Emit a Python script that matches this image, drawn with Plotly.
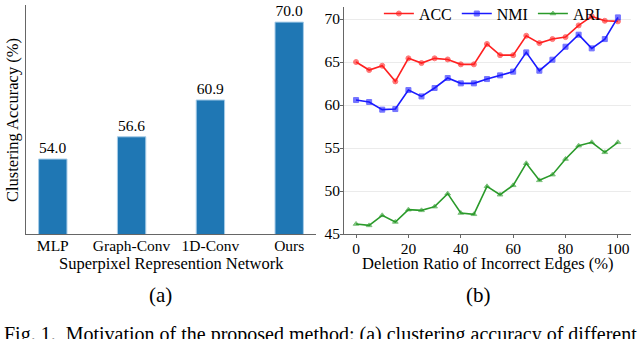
"""Clustering accuracy: bar chart (a) and deletion-ratio line chart (b)."""

import plotly.graph_objects as go

# (a) superpixel representation networks
networks = ["MLP", "Graph-Conv", "1D-Conv", "Ours"]
net_acc = [54.0, 56.6, 60.9, 70.0]

# (b) deletion ratio of incorrect edges
ratio = [0, 5, 10, 15, 20, 25, 30, 35, 40, 45, 50, 55, 60, 65, 70, 75, 80, 85, 90, 95, 100]
acc = [65.0, 64.07, 64.57, 62.75, 65.43, 64.88, 65.43, 65.3, 64.73, 64.73, 67.1,
       65.8, 65.8, 68.06, 67.2, 67.67, 67.9, 69.26, 70.31, 69.8, 69.73]
nmi = [60.58, 60.35, 59.46, 59.53, 61.74, 61.0, 61.98, 63.14, 62.52, 62.52, 63.02,
       63.45, 63.88, 66.12, 63.99, 65.27, 66.78, 68.18, 66.59, 67.67, 70.19]
ari = [46.16, 46.0, 47.17, 46.4, 47.83, 47.75, 48.18, 49.69, 47.44, 47.29, 50.54,
       49.57, 50.66, 53.22, 51.24, 51.9, 53.72, 55.27, 55.66, 54.5, 55.66]
ratio_ticks = [0, 20, 40, 60, 80, 100]
acc_ticks = [45, 50, 55, 60, 65, 70]

SERIF = "Liberation Serif"
AXIS_COLOR = "#666666"
LABEL_FONT = dict(family=SERIF, size=15.5, color="black")
TITLE_FONT = dict(family=SERIF, size=16.5, color="black")

fig = go.Figure()

fig.add_trace(
    go.Bar(
        x=networks,
        y=net_acc,
        text=[f"{v:.1f}" for v in net_acc],
        textposition="outside",
        textfont=dict(family=SERIF, size=15.5, color="black"),
        cliponaxis=False,
        width=0.36,
        marker=dict(color="#1f77b4", line=dict(color="#a6cce8", width=1)),
        showlegend=False,
        xaxis="x",
        yaxis="y",
    )
)

series = [
    ("ACC", acc, "#ff2020", "circle"),
    ("NMI", nmi, "#1a1aff", "square"),
    ("ARI", ari, "#2a9a2a", "triangle-up"),
]
for name, values, color, symbol in series:
    fig.add_trace(
        go.Scatter(
            x=ratio,
            y=values,
            name=name,
            mode="lines+markers",
            line=dict(color=color, width=1.6),
            marker=dict(symbol=symbol, size=5, color=color, opacity=0.6,
                        line=dict(color=color, width=1)),
            xaxis="x2",
            yaxis="y2",
        )
    )

axis_common = dict(
    showline=True,
    linecolor=AXIS_COLOR,
    linewidth=1,
    tickfont=LABEL_FONT,
    zeroline=False,
    automargin=False,
    ticklabelstandoff=-3,
)

fig.update_layout(
    width=640,
    height=339,
    margin=dict(l=0, r=0, t=0, b=0, autoexpand=False),
    paper_bgcolor="white",
    plot_bgcolor="white",
    font=dict(family=SERIF, color="black"),
    xaxis=dict(
        domain=[26 / 640, 316 / 640],
        range=[-0.34, 3.34],
        showgrid=False,
        ticks="",
        anchor="y",
        **axis_common,
    ),
    yaxis=dict(
        domain=[1 - 234 / 339, 1 - 5 / 339],
        range=[45.24, 72.0],
        showgrid=False,
        showticklabels=False,
        ticks="",
        anchor="x",
        **axis_common,
    ),
    xaxis2=dict(
        domain=[344 / 640, 631 / 640],
        range=[-4.6, 105],
        tickvals=ratio_ticks,
        showgrid=False,
        ticks="outside",
        ticklen=3,
        tickcolor=AXIS_COLOR,
        anchor="y2",
        **axis_common,
    ),
    yaxis2=dict(
        domain=[1 - 234 / 339, 1 - 7 / 339],
        range=[45, 71.4],
        tickvals=acc_ticks,
        showgrid=True,
        gridcolor="#ebebeb",
        ticks="outside",
        ticklen=3,
        tickcolor=AXIS_COLOR,
        anchor="x2",
        **axis_common,
    ),
    legend=dict(
        orientation="h",
        x=0.592,
        y=1.01,
        xanchor="left",
        yanchor="top",
        bgcolor="rgba(255,255,255,0)",
        font=dict(family=SERIF, size=16, color="black"),
        itemwidth=30,
    ),
    annotations=[
        dict(text="Superpixel Represention Network", x=171 / 640, y=1 - 263 / 339,
             xref="paper", yref="paper", xanchor="center", yanchor="middle",
             showarrow=False, font=TITLE_FONT),
        dict(text="Clustering Accuracy (%)", x=12 / 640, y=1 - 120 / 339, textangle=-90,
             xref="paper", yref="paper", xanchor="center", yanchor="middle",
             showarrow=False, font=TITLE_FONT),
        dict(text="Deletion Ratio of Incorrect Edges (%)", x=488 / 640, y=1 - 263 / 339,
             xref="paper", yref="paper", xanchor="center", yanchor="middle",
             showarrow=False, font=TITLE_FONT),
        dict(text="(a)", x=160 / 640, y=1 - 295 / 339, xref="paper", yref="paper",
             xanchor="center", yanchor="middle",
             showarrow=False, font=dict(family=SERIF, size=21, color="black")),
        dict(text="(b)", x=478 / 640, y=1 - 295 / 339, xref="paper", yref="paper",
             xanchor="center", yanchor="middle",
             showarrow=False, font=dict(family=SERIF, size=21, color="black")),
        dict(text="Fig. 1.  Motivation of the proposed method: (a) clustering accuracy of different",
             x=2 / 640, y=1 - 334 / 339, xref="paper", yref="paper",
             xanchor="left", yanchor="middle", showarrow=False,
             font=dict(family=SERIF, size=20, color="black")),
    ],
)

# the page body has a default 8px margin; drop it so the figure sits at the window origin
fig.write_html(
    "out.html",
    config={"displayModeBar": False},
    post_script="document.body.style.margin='0'; document.body.style.overflow='hidden';",
)
